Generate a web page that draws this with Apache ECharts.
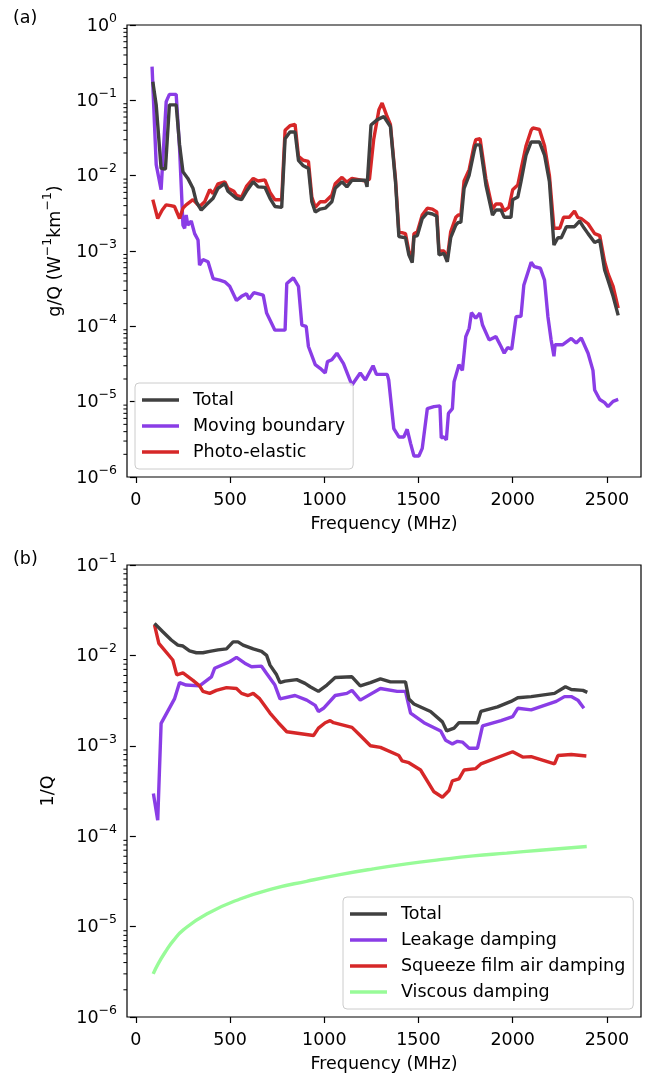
<!DOCTYPE html>
<html>
<head>
<meta charset="utf-8">
<script src="https://cdn.jsdelivr.net/npm/echarts@6/dist/echarts.min.js"></script>
<style>
  html, body { margin: 0; padding: 0; background: #fff; }
  #chart { width: 652px; height: 1078px; }
</style>
</head>
<body>
<div id="chart"></div>
<script>
// ---- panel (a): g/Q vs frequency, [MHz, value] ----
const topTotal = [
  [90, 0.177], [108, 0.087], [134, 0.0125], [157, 0.0122], [178, 0.087], [214, 0.087], [232, 0.0256],
  [250, 0.0113], [276, 0.0092], [303, 0.0068], [321, 0.0045], [347, 0.0035], [374, 0.0041], [410, 0.005],
  [436, 0.0068], [472, 0.0079], [489, 0.0062], [534, 0.005], [561, 0.0048], [587, 0.0062], [623, 0.0083],
  [649, 0.0071], [685, 0.007], [712, 0.005], [738, 0.0039], [774, 0.0038], [792, 0.031], [818, 0.038],
  [845, 0.038], [863, 0.016], [889, 0.0135], [916, 0.0125], [934, 0.0045], [952, 0.0033], [978, 0.0036],
  [1005, 0.0037], [1040, 0.0045], [1058, 0.0068], [1094, 0.0083], [1120, 0.0071], [1147, 0.0087],
  [1218, 0.0087], [1227, 0.0071], [1248, 0.047], [1280, 0.055], [1316, 0.061], [1325, 0.058], [1351, 0.045],
  [1378, 0.0083], [1396, 0.00155], [1431, 0.0015], [1449, 0.00089], [1467, 0.0007], [1476, 0.00155],
  [1494, 0.0016], [1520, 0.0027], [1547, 0.0032], [1574, 0.0031], [1597, 0.0029], [1609, 0.00089],
  [1635, 0.00093], [1653, 0.00072], [1671, 0.0015], [1698, 0.0022], [1711, 0.0024], [1725, 0.0024],
  [1742, 0.0068], [1769, 0.0102], [1795, 0.021], [1804, 0.0256], [1827, 0.0256], [1858, 0.0075],
  [1893, 0.003], [1911, 0.0035], [1938, 0.0035], [1955, 0.0028], [1991, 0.0028], [2000, 0.0048],
  [2027, 0.0052], [2044, 0.0083], [2071, 0.0188], [2098, 0.028], [2142, 0.028], [2169, 0.0188],
  [2195, 0.0083], [2219, 0.0012], [2240, 0.0015], [2258, 0.0015], [2285, 0.0021], [2328, 0.0021],
  [2355, 0.0025], [2380, 0.002], [2400, 0.0017], [2435, 0.0013], [2462, 0.0014], [2488, 0.00056],
  [2506, 0.00041], [2533, 0.00025], [2560, 0.00014]
];
const topMoving = [
  [86, 0.28], [108, 0.014], [134, 0.0065], [161, 0.096], [178, 0.12], [214, 0.12], [232, 0.023],
  [250, 0.0022], [259, 0.002], [267, 0.003], [276, 0.0022], [285, 0.0023], [294, 0.0025], [312, 0.0017],
  [330, 0.0014], [338, 0.00065], [356, 0.00077], [383, 0.00072], [410, 0.00043], [445, 0.00041],
  [472, 0.00039], [498, 0.00034], [534, 0.00022], [561, 0.00025], [587, 0.00027], [601, 0.00023],
  [626, 0.00028], [676, 0.00026], [694, 0.00015], [738, 0.000089], [792, 0.000089], [801, 0.00037],
  [836, 0.00044], [863, 0.00034], [881, 0.000104], [904, 0.0001], [916, 0.000054], [952, 0.000031],
  [978, 0.0000277], [1005, 0.000024], [1017, 0.000034], [1040, 0.000036], [1067, 0.000044],
  [1102, 0.000032], [1147, 0.0000166], [1191, 0.000024], [1218, 0.0000194], [1259, 0.00003],
  [1277, 0.000023], [1334, 0.000023], [1342, 0.0000194], [1369, 0.0000044], [1396, 0.0000034],
  [1422, 0.0000034], [1440, 0.0000043], [1458, 0.0000028], [1476, 0.0000019], [1502, 0.0000019],
  [1520, 0.0000024], [1547, 0.0000081], [1582, 0.0000086], [1614, 0.0000088], [1621, 0.0000033],
  [1635, 0.0000034], [1648, 0.0000031], [1659, 0.000007], [1680, 0.0000081], [1689, 0.0000184],
  [1715, 0.000031], [1733, 0.000026], [1751, 0.000073], [1769, 0.000094], [1781, 0.000152],
  [1804, 0.000128], [1826, 0.00015], [1840, 0.000104], [1875, 0.000066], [1911, 0.000073],
  [1938, 0.000054], [1955, 0.000044], [1973, 0.000052], [1995, 0.00005], [2018, 0.000134],
  [2044, 0.000136], [2059, 0.00035], [2098, 0.00071], [2115, 0.00062], [2147, 0.00059], [2169, 0.00041],
  [2187, 0.000134], [2204, 0.000066], [2219, 0.00004], [2225, 0.000057], [2266, 0.000057],
  [2311, 0.000069], [2337, 0.00006], [2364, 0.00007], [2400, 0.000044], [2426, 0.000026],
  [2435, 0.0000143], [2462, 0.0000107], [2488, 0.0000097], [2506, 0.0000086], [2533, 0.0000101],
  [2560, 0.0000107]
];
const topPhoto = [
  [90, 0.0048], [116, 0.0027], [140, 0.0035], [161, 0.0041], [185, 0.004], [205, 0.0039], [232, 0.0027],
  [250, 0.0037], [267, 0.0041], [303, 0.0048], [338, 0.0039], [365, 0.0045], [392, 0.0065], [410, 0.0058],
  [436, 0.0078], [472, 0.0083], [489, 0.0068], [520, 0.0062], [534, 0.0055], [561, 0.0052], [587, 0.0072],
  [623, 0.0092], [649, 0.0085], [685, 0.0088], [712, 0.006], [738, 0.0048], [774, 0.0048], [792, 0.04],
  [818, 0.046], [845, 0.048], [863, 0.018], [889, 0.016], [916, 0.0155], [934, 0.0052], [952, 0.0038],
  [978, 0.0045], [1005, 0.0045], [1040, 0.0055], [1058, 0.0078], [1094, 0.0095], [1120, 0.0082],
  [1147, 0.0092], [1218, 0.0085], [1240, 0.009], [1262, 0.03], [1290, 0.075], [1307, 0.092],
  [1316, 0.088], [1330, 0.064], [1351, 0.048], [1378, 0.009], [1396, 0.0018], [1431, 0.0017],
  [1449, 0.001], [1467, 0.0008], [1476, 0.0017], [1494, 0.0018], [1520, 0.003], [1547, 0.0037],
  [1574, 0.0036], [1597, 0.0033], [1609, 0.001], [1635, 0.001], [1653, 0.0008], [1671, 0.0018],
  [1698, 0.0028], [1711, 0.003], [1725, 0.003], [1742, 0.0085], [1769, 0.012], [1795, 0.025],
  [1804, 0.03], [1827, 0.031], [1858, 0.009], [1893, 0.0036], [1911, 0.0042], [1938, 0.0042],
  [1955, 0.0034], [1980, 0.0038], [2000, 0.0065], [2027, 0.0075], [2044, 0.012], [2071, 0.025],
  [2098, 0.04], [2107, 0.043], [2142, 0.041], [2151, 0.04], [2169, 0.025], [2195, 0.01], [2219, 0.002],
  [2250, 0.002], [2270, 0.0028], [2300, 0.0028], [2328, 0.0034], [2345, 0.0028], [2364, 0.0027],
  [2400, 0.0023], [2435, 0.0017], [2462, 0.0016], [2488, 0.00072], [2506, 0.0005], [2533, 0.00034],
  [2560, 0.000175]
];

// ---- panel (b): 1/Q vs frequency, [MHz, value] ----
const botTotal = [
  [99, 0.0226], [143, 0.0183], [188, 0.0148], [223, 0.013], [250, 0.0127], [285, 0.0112], [321, 0.0107],
  [356, 0.0107], [365, 0.0103], [392, 0.0111], [436, 0.0115], [481, 0.0118], [516, 0.0141], [542, 0.0141],
  [569, 0.013], [623, 0.0118], [667, 0.0111], [694, 0.01], [712, 0.0078], [747, 0.0061], [765, 0.005],
  [792, 0.0052], [854, 0.0054], [898, 0.0049], [925, 0.0045], [969, 0.004], [1014, 0.0047], [1058, 0.0057],
  [1147, 0.0058], [1191, 0.0046], [1245, 0.005], [1298, 0.0055], [1351, 0.0051], [1431, 0.0051],
  [1449, 0.0033], [1476, 0.0029], [1564, 0.0024], [1627, 0.00184], [1650, 0.00146], [1689, 0.00157],
  [1715, 0.0018], [1813, 0.0018], [1831, 0.0024], [1920, 0.0027], [1991, 0.0031], [2027, 0.0034],
  [2098, 0.0035], [2222, 0.0038], [2280, 0.0045], [2311, 0.0042], [2373, 0.0041], [2396, 0.0039]
];
const botLeakage = [
  [93, 0.000296], [116, 0.00015], [134, 0.00177], [205, 0.0033], [232, 0.005], [267, 0.0047],
  [338, 0.0046], [401, 0.0058], [418, 0.0072], [498, 0.0085], [534, 0.0095], [578, 0.0082], [614, 0.0075],
  [667, 0.0076], [694, 0.0063], [738, 0.0047], [765, 0.0033], [845, 0.0036], [907, 0.0032], [952, 0.0028],
  [969, 0.0024], [996, 0.0026], [1058, 0.0036], [1120, 0.0038], [1147, 0.0041], [1191, 0.0032],
  [1298, 0.0043], [1387, 0.004], [1431, 0.004], [1458, 0.0023], [1529, 0.0018], [1618, 0.00146],
  [1644, 0.00115], [1680, 0.00105], [1707, 0.00112], [1733, 0.0011], [1769, 0.00094], [1813, 0.00094],
  [1840, 0.00166], [1938, 0.0019], [2000, 0.0021], [2027, 0.0026], [2098, 0.0025], [2231, 0.0031],
  [2275, 0.0035], [2311, 0.0035], [2346, 0.0032], [2378, 0.0026]
];
const botSqueeze = [
  [99, 0.0217], [122, 0.0136], [196, 0.0089], [217, 0.0061], [250, 0.0064], [303, 0.0053], [338, 0.0046],
  [356, 0.004], [392, 0.0038], [427, 0.0041], [481, 0.0044], [534, 0.0043], [561, 0.0038], [596, 0.0036],
  [623, 0.0038], [658, 0.0033], [712, 0.0023], [756, 0.0018], [801, 0.00143], [943, 0.0013],
  [969, 0.00157], [1005, 0.0018], [1031, 0.0019], [1049, 0.0018], [1147, 0.0016], [1191, 0.0013],
  [1245, 0.001], [1298, 0.00096], [1396, 0.00078], [1413, 0.00068], [1449, 0.00065], [1511, 0.00054],
  [1582, 0.00031], [1627, 0.00027], [1662, 0.00032], [1680, 0.00041], [1715, 0.00043], [1742, 0.00054],
  [1804, 0.00056], [1831, 0.00063], [2000, 0.00086], [2053, 0.00075], [2098, 0.00076], [2222, 0.00063],
  [2240, 0.00078], [2311, 0.0008], [2391, 0.00077]
];
const botViscous = [
  [92, 3.0e-6], [119, 3.9e-6], [163, 5.5e-6], [199, 7.0e-6], [252, 9.2e-6], [376, 1.38e-5], [553, 2.02e-5],
  [729, 2.63e-5], [906, 3.17e-5], [1083, 3.76e-5], [1260, 4.35e-5], [1437, 4.94e-5], [1614, 5.5e-5],
  [1791, 6.05e-5], [1968, 6.5e-5], [2145, 7.0e-5], [2393, 7.7e-5]
];

// ---- axes ----
const xTicks = [0, 500, 1000, 1500, 2000, 2500];
const xMin = -47, xMax = 2681;
const topDecades = [-6, -5, -4, -3, -2, -1, 0];
const botDecades = [-6, -5, -4, -3, -2, -1];
const minorSteps = [2, 3, 4, 5, 6, 7, 8, 9];

const FONT = 'DejaVu Sans';
const FS = 17.5;
const colors = { total: '#404040', purple: '#8a3de6', red: '#d62728', green: '#98fb98' };

function minorValues(decades) {
  const out = [];
  for (let i = 0; i < decades.length - 1; i++) {
    minorSteps.forEach(function (m) { out.push(m * Math.pow(10, decades[i])); });
  }
  return out;
}

function powLabel(v) {
  const e = Math.round(Math.log10(v));
  return '{b|10}{s|' + (e < 0 ? '\u2212' + (-e) : String(e)) + '}';
}

const supRich = {
  b: { fontSize: FS, fontFamily: FONT, color: '#000', lineHeight: 20, verticalAlign: 'bottom' },
  s: { fontSize: 12.5, fontFamily: FONT, color: '#000', lineHeight: 14, verticalAlign: 'bottom', padding: [0, 0, 10, 0] }
};

function xAxisCfg(gridIndex) {
  return {
    type: 'value', gridIndex: gridIndex, min: xMin, max: xMax,
    name: 'Frequency (MHz)', nameLocation: 'middle', nameGap: 38,
    nameTextStyle: { fontSize: FS, fontFamily: FONT, color: '#000' },
    axisLine: { show: false },
    splitLine: { show: false },
    axisTick: { show: true, length: 6, customValues: xTicks, lineStyle: { color: '#000', width: 1.2 } },
    axisLabel: { customValues: xTicks, margin: 14, fontSize: FS, fontFamily: FONT, color: '#000',
      formatter: function (v) { return String(v); } }
  };
}

function yAxisCfg(gridIndex, decades, nameRich, gap) {
  return {
    type: 'log', logBase: 10, gridIndex: gridIndex,
    min: Math.pow(10, decades[0]), max: Math.pow(10, decades[decades.length - 1]),
    splitNumber: decades.length - 1,
    name: nameRich, nameLocation: 'middle', nameGap: gap, nameRotate: 90,
    nameTextStyle: { rich: supRich },
    axisLine: { show: false },
    splitLine: { show: false },
    axisTick: { show: true, length: 6, lineStyle: { color: '#000', width: 1.2 } },
    axisLabel: { margin: 10, formatter: powLabel, rich: supRich, showMinLabel: true, showMaxLabel: true }
  };
}

function lineSeries(name, data, color, xi, z, smooth) {
  return {
    name: name, type: 'line', xAxisIndex: xi, yAxisIndex: xi, data: data,
    showSymbol: false, symbol: 'none', smooth: !!smooth, z: z,
    lineStyle: { color: color, width: 3.4 }, itemStyle: { color: color },
    emphasis: { disabled: true }
  };
}

const legendBase = {
  orient: 'vertical', icon: 'rect', itemWidth: 37, itemHeight: 3.5, itemGap: 6,
  backgroundColor: 'rgba(255,255,255,0.8)', borderColor: '#cccccc', borderWidth: 1, borderRadius: 4,
  textStyle: { fontSize: FS, fontFamily: FONT, color: '#000', lineHeight: 20, padding: [0, 0, 0, 9] },
  selectedMode: false
};

const chart = echarts.init(document.getElementById('chart'), null, { renderer: 'canvas' });
chart.setOption({
  animation: false,
  backgroundColor: '#fff',
  title: [
    { text: '(a)', left: 8, top: 4, textStyle: { fontSize: FS, fontFamily: FONT, fontWeight: 'normal', color: '#000' } },
    { text: '(b)', left: 8, top: 545, textStyle: { fontSize: FS, fontFamily: FONT, fontWeight: 'normal', color: '#000' } }
  ],
  grid: [
    { left: 127, top: 25, width: 514, height: 452, show: true, borderColor: '#000', borderWidth: 1.2, backgroundColor: 'transparent' },
    { left: 127, top: 565, width: 514, height: 452, show: true, borderColor: '#000', borderWidth: 1.2, backgroundColor: 'transparent' }
  ],
  xAxis: [xAxisCfg(0), xAxisCfg(1)],
  yAxis: [
    yAxisCfg(0, topDecades, '{b|g/Q (W}{s|\u22121}{b|km}{s|\u22121}{b|)}', 63),
    yAxisCfg(1, botDecades, '{b|1/Q}', 70)
  ],
  legend: [
    Object.assign({}, legendBase, { left: 135, top: 383, padding: [7, 8, 7, 7],
      data: ['Total', 'Moving boundary', 'Photo-elastic'] }),
    Object.assign({}, legendBase, { left: 343, top: 897, padding: [7, 8, 7, 7],
      data: ['Total', 'Leakage damping', 'Squeeze film air damping', 'Viscous damping'] })
  ],
  series: [
    lineSeries('Moving boundary', topMoving, colors.purple, 0, 3),
    lineSeries('Photo-elastic', topPhoto, colors.red, 0, 4),
    lineSeries('Total', topTotal, colors.total, 0, 5),
    lineSeries('Leakage damping', botLeakage, colors.purple, 1, 3),
    lineSeries('Squeeze film air damping', botSqueeze, colors.red, 1, 4),
    lineSeries('Viscous damping', botViscous, colors.green, 1, 3, true),
    lineSeries('Total', botTotal, colors.total, 1, 5)
  ]
});

// minor log ticks on the y axes, placed through the chart's own scales
const minorGraphics = [];
[[0, topDecades], [1, botDecades]].forEach(function (pair) {
  minorValues(pair[1]).forEach(function (v) {
    const p = chart.convertToPixel({ gridIndex: pair[0] }, [xMin, v]);
    minorGraphics.push({ type: 'line', silent: true, z: 10,
      shape: { x1: p[0] - 3.6, y1: p[1], x2: p[0], y2: p[1] },
      style: { stroke: '#000', lineWidth: 1 } });
  });
});
chart.setOption({ graphic: minorGraphics });
</script>
</body>
</html>
